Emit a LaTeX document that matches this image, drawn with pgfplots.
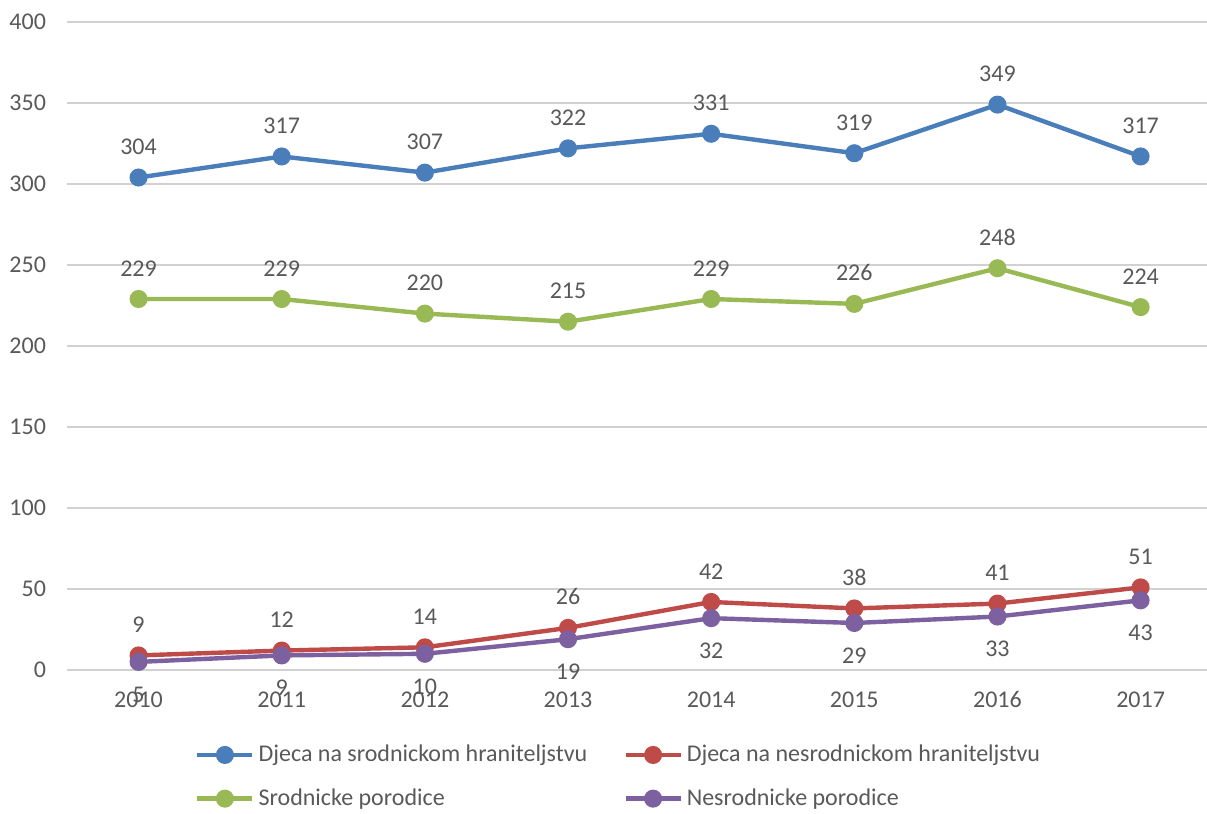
\documentclass[border=0pt]{standalone}
\usepackage{fontspec}
\setmainfont{Carlito}
\usepackage{pgfplots}
\pgfplotsset{compat=1.18}
\definecolor{sblue}{HTML}{4A7EBB}
\definecolor{sred}{HTML}{BE4B48}
\definecolor{sgreen}{HTML}{98B954}
\definecolor{spurple}{HTML}{7D60A0}
\definecolor{txtgray}{HTML}{595959}
\newcommand{\numfont}{\fontsize{12}{14}\selectfont}
\pgfplotsset{
  serie/.style={color=#1, line width=2.2pt, mark=*, mark size=3.4pt,
    mark options={solid, fill=#1, draw=#1}},
  above lbl/.style={nodes near coords, every node near coord/.append style={
    anchor=south, yshift=7pt, text=txtgray, font=\numfont}},
  below lbl/.style={nodes near coords, every node near coord/.append style={
    anchor=north, yshift=-8pt, text=txtgray, font=\numfont}},
}
\begin{document}
\begin{tikzpicture}
\begin{axis}[
  name=ax,
  scale only axis,
  width=572.6pt, height=324pt,
  xmin=2009.5, xmax=2017.5, ymin=0, ymax=400,
  xtick={2010,2011,...,2017}, ytick={0,50,...,400},
  /pgf/number format/1000 sep={},
  /pgf/number format/assume math mode=true,
  axis line style={draw=none},
  major tick length=0pt,
  ymajorgrids, grid style={color=black!18, line width=0.6pt},
  tick label style={font=\numfont, text=txtgray},
  yticklabel style={xshift=-7pt},
  xticklabel style={yshift=-7.2pt},
  clip=false,
  legend columns=2,
  legend cell align=left,
  legend style={draw=none, fill=none, at={(0.4826,-0.103)}, anchor=north,
    font=\numfont, text=txtgray, inner xsep=0pt,
    /tikz/every even column/.append style={column sep=16pt},
    row sep=8pt},
  legend image code/.code={
    \draw[#1, mark repeat=2, mark phase=2] plot coordinates {(0pt,0pt) (13.75pt,0pt) (27.5pt,0pt)};},
]
\addplot[serie=sblue, above lbl] coordinates {(2010,304) (2011,317) (2012,307) (2013,322) (2014,331) (2015,319) (2016,349) (2017,317)};
\addplot[serie=sred, above lbl] coordinates {(2010,9) (2011,12) (2012,14) (2013,26) (2014,42) (2015,38) (2016,41) (2017,51)};
\addplot[serie=sgreen, above lbl] coordinates {(2010,229) (2011,229) (2012,220) (2013,215) (2014,229) (2015,226) (2016,248) (2017,224)};
\addplot[serie=spurple, below lbl] coordinates {(2010,5) (2011,9) (2012,10) (2013,19) (2014,32) (2015,29) (2016,33) (2017,43)};
\legend{Djeca na srodnickom hraniteljstvu, Djeca na nesrodnickom hraniteljstvu, Srodnicke porodice, Nesrodnicke porodice}
\end{axis}
\pgfresetboundingbox
\path ([xshift=-33.5pt, yshift=-72pt]ax.south west) rectangle ([xshift=570pt, yshift=11pt]ax.north west);
\end{tikzpicture}
\end{document}
